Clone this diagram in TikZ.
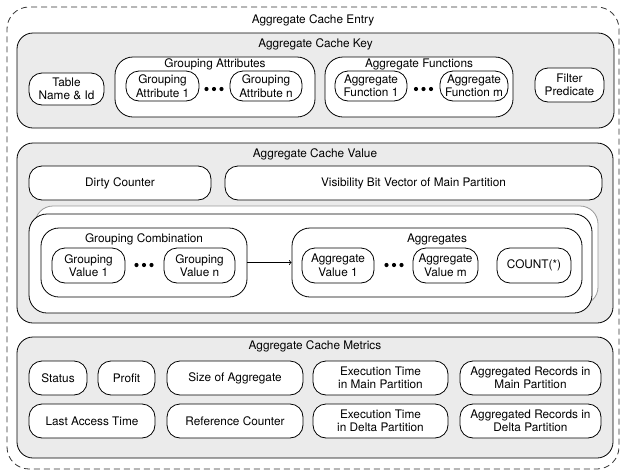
\documentclass[tikz,border=0pt]{standalone}
\usepackage{fontspec}
\setmainfont{TeX Gyre Heros}
\definecolor{panelgray}{gray}{0.92}
\begin{document}
\begin{tikzpicture}[x=1pt,y=-1pt,line join=round,
  font=\fontsize{11.8pt}{13.5pt}\selectfont,
  every node/.style={inner sep=0pt,align=center},
  wh/.style 2 args={minimum width=#1pt,minimum height=#2pt},
  panel/.style={draw,fill=panelgray,rounded corners=16pt,line width=0.8pt},
  group/.style={draw,fill=white,rounded corners=18pt,line width=0.8pt},
  pill/.style={draw,fill=white,rounded corners=13pt,line width=0.8pt}]
  \useasboundingbox (0,0) rectangle (622,472);

  % Aussenrahmen (gestrichelt)
  \node[draw=black!80,line width=0.8pt,dash pattern=on 6pt off 4pt,
    rounded corners=22pt,wh={612}{462}] (entry) at (313,238) {};
  \node (entrytitle) at (313,20) {Aggregate Cache Entry};

  % Key
  \node[panel,wh={597}{95}] (key) at (315.5,80.5) {};
  \node (keytitle) at (315.5,44) {Aggregate Cache Key};
  \node[pill,wh={75}{32}] (table) at (66.5,89) {Table\\Name \& Id};

  \node[group,wh={200}{60}] (gattr) at (215,87) {};
  \node (gattrtitle) at (215,64.5) {Grouping Attributes};
  \node[pill,wh={73}{30}] (ga1) at (162.5,86) {Grouping\\Attribute 1};
  \node[pill,wh={72}{30}] (gan) at (266,86) {Grouping\\Attribute n};
  \coordinate (gadots) at (214,89);

  \node[group,wh={188}{60}] (afunc) at (419,87) {};
  \node (afunctitle) at (419,64.5) {Aggregate Functions};
  \node[pill,wh={72}{30}] (af1) at (371,86) {Aggregate\\Function 1};
  \node[pill,wh={68}{30}] (afm) at (474,86) {Aggregate\\Function m};
  \coordinate (afdots) at (423.5,89);

  \node[pill,wh={69}{34}] (filter) at (569.5,85) {Filter\\Predicate};

  % Value
  \node[panel,wh={596}{180}] (value) at (315,233) {};
  \node (valuetitle) at (315,154) {Aggregate Cache Value};
  \node[pill,wh={182}{34}] (dirty) at (120,183) {Dirty Counter};
  \node[pill,wh={377}{34}] (vis) at (413.5,183) {Visibility Bit Vector of Main Partition};

  % Eintraege (gestapelt)
  \node[group,draw=black!40,wh={563}{99}] (tupleback) at (316.5,255.5) {};
  \node[group,wh={563}{99}] (tuple) at (310.5,263.5) {};

  \node[group,wh={206}{69}] (gcomb) at (144,262.5) {};
  \node (gcombtitle) at (144,239.5) {Grouping Combination};
  \node[pill,wh={73}{35}] (gv1) at (88.5,265.5) {Grouping\\Value 1};
  \node[pill,wh={71}{35}] (gvn) at (199.5,265.5) {Grouping\\Value n};
  \coordinate (gvdots) at (144,265);

  \node[group,wh={290}{69}] (aggs) at (437,262.5) {};
  \node (aggstitle) at (437,239.5) {Aggregates};
  \node[pill,wh={72}{35}] (av1) at (338,265.5) {Aggregate\\Value 1};
  \node[pill,wh={65}{35}] (avm) at (445.5,265.5) {Aggregate\\Value m};
  \node[pill,wh={74}{35}] (count) at (534,265.5) {COUNT(*)};
  \coordinate (avdots) at (394,265);

  \draw[->,line width=0.8pt] (gcomb) -- (aggs);

  % Punkte
  \foreach \c in {gadots,afdots,gvdots,avdots}
    \foreach \dx in {-7.5,0,7.5}
      \fill ([xshift=\dx pt]\c) circle (2.1pt);

  % Metrics
  \node[panel,wh={596}{121}] (metrics) at (315,397.5) {};
  \node (metricstitle) at (315,346) {Aggregate Cache Metrics};
  \node[pill,wh={58}{34}] (status) at (58,378) {Status};
  \node[pill,wh={57}{34}] (profit) at (126.5,378) {Profit};
  \node[pill,wh={136}{34}] (size) at (235,378) {Size of Aggregate};
  \node[pill,wh={135}{34}] (execmain) at (380.5,378) {Execution Time\\in Main Partition};
  \node[pill,wh={141}{34}] (recmain) at (530.5,378) {Aggregated Records in\\Main Partition};
  \node[pill,wh={126}{34}] (lastaccess) at (92,421) {Last Access Time};
  \node[pill,wh={136}{34}] (refcount) at (235,421) {Reference Counter};
  \node[pill,wh={135}{34}] (execdelta) at (380.5,421) {Execution Time\\in Delta Partition};
  \node[pill,wh={141}{34}] (recdelta) at (530.5,421) {Aggregated Records in\\Delta Partition};
\end{tikzpicture}
\end{document}
